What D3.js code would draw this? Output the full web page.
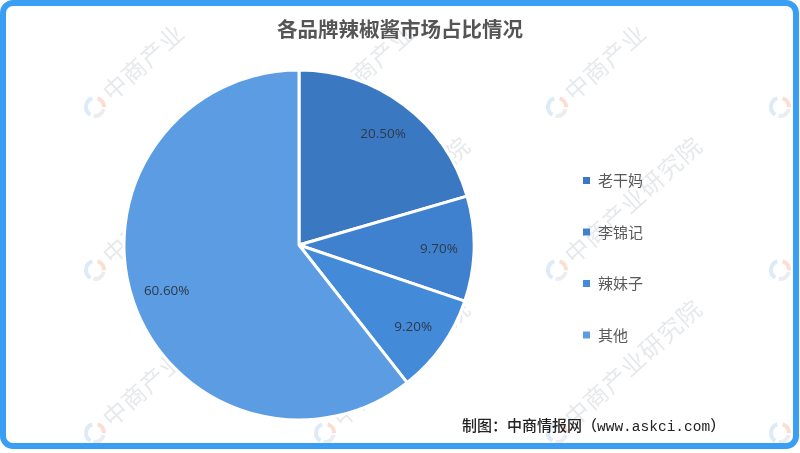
<!DOCTYPE html>
<html><head><meta charset="utf-8">
<script src="https://cdn.jsdelivr.net/npm/d3@7/dist/d3.min.js"></script>
<style>html,body{margin:0;padding:0;background:#fff;}svg{display:block;}</style>
</head><body>
<script>
const categories = ["老干妈","李锦记","辣妹子","其他"];
const values = [20.5, 9.7, 9.2, 60.6];
const labels = ["20.50%","9.70%","9.20%","60.60%"];
const colors = ["#3b78c2","#3f81cf","#438ad9","#5b9ce2"];
const title = "各品牌辣椒酱市场占比情况";
const source = ["制图：中商情报网（","www.askci.com","）"];
const watermark = "中商产业研究院";

const W=800,H=453;
const svg=d3.select("body").append("svg").attr("width",W).attr("height",H);
svg.append("rect").attr("width",W).attr("height",H).attr("fill","#fff");

// watermarks (text shortened where the reference has it running off the edge)
const wmX=[95,325,557,780], wmY=[107,270,433];
const wm=svg.append("g").attr("opacity",0.35);
wmY.forEach((y,ri)=>wmX.forEach(x=>{
  const g=wm.append("g").attr("transform",`translate(${x},${y})`);
  const arc=d3.arc().innerRadius(7).outerRadius(11);
  g.append("path").attr("d",arc({startAngle:-2.6,endAngle:-0.3})).attr("fill","#9fc3e8");
  g.append("path").attr("d",arc({startAngle:0.3,endAngle:1.6})).attr("fill","#f2a07a");
  g.append("path").attr("d",arc({startAngle:1.8,endAngle:3.3})).attr("fill","#c7cdd4");
  if (x>700) return;
  const txt = ri===0 ? watermark.slice(0,4) : watermark;
  g.append("text").attr("x",16).attr("y",8).attr("transform","rotate(-42)")
    .attr("font-family","Noto Sans CJK SC").attr("font-size",24).attr("fill","#b8c0c8")
    .attr("letter-spacing",1).text(txt);
}));

// frame
svg.append("rect").attr("x",3).attr("y",3).attr("width",793).attr("height",443).attr("rx",10)
  .attr("fill","none").attr("stroke","#3a9ff2").attr("stroke-width",6);

svg.append("text").attr("x",400).attr("y",37).attr("text-anchor","middle")
  .attr("font-family","Noto Sans CJK SC").attr("font-weight","bold").attr("font-size",20.5)
  .attr("fill","#555").text(title);

const cx=299,cy=245,r=175;
const pie=d3.pie().sort(null).value(d=>d)(values);
const arc=d3.arc().innerRadius(0).outerRadius(r);
const g=svg.append("g").attr("transform",`translate(${cx},${cy})`);
g.selectAll("path").data(pie).join("path").attr("d",arc)
  .attr("fill",(d,i)=>colors[i]).attr("stroke","#fff").attr("stroke-width",3).attr("stroke-linejoin","round");
const la=d3.arc().innerRadius(140).outerRadius(140);
g.selectAll("text").data(pie).join("text")
  .attr("transform",d=>`translate(${la.centroid(d)})`)
  .attr("text-anchor","middle").attr("dy","0.35em")
  .attr("font-family","Open Sans").attr("font-size",13.5).attr("fill","#2e3a4a")
  .text((d,i)=>labels[i]);

const lg=svg.append("g");
categories.forEach((c,i)=>{
  const y=181+i*51.5;
  lg.append("rect").attr("x",583).attr("y",y-4).attr("width",7).attr("height",7).attr("fill",colors[i]);
  lg.append("text").attr("x",598).attr("y",y).attr("dy","0.35em")
    .attr("font-family","Noto Sans CJK SC").attr("font-size",15).attr("fill","#595959").text(c);
});

const ft=svg.append("text").attr("x",462).attr("y",431)
  .attr("font-family","Noto Sans CJK SC").attr("font-size",15).attr("font-weight",500).attr("fill","#222");
ft.append("tspan").text(source[0]);
ft.append("tspan").attr("font-family","Liberation Mono").attr("font-size",14.5).text(source[1]);
ft.append("tspan").text(source[2]);
</script>
</body></html>
